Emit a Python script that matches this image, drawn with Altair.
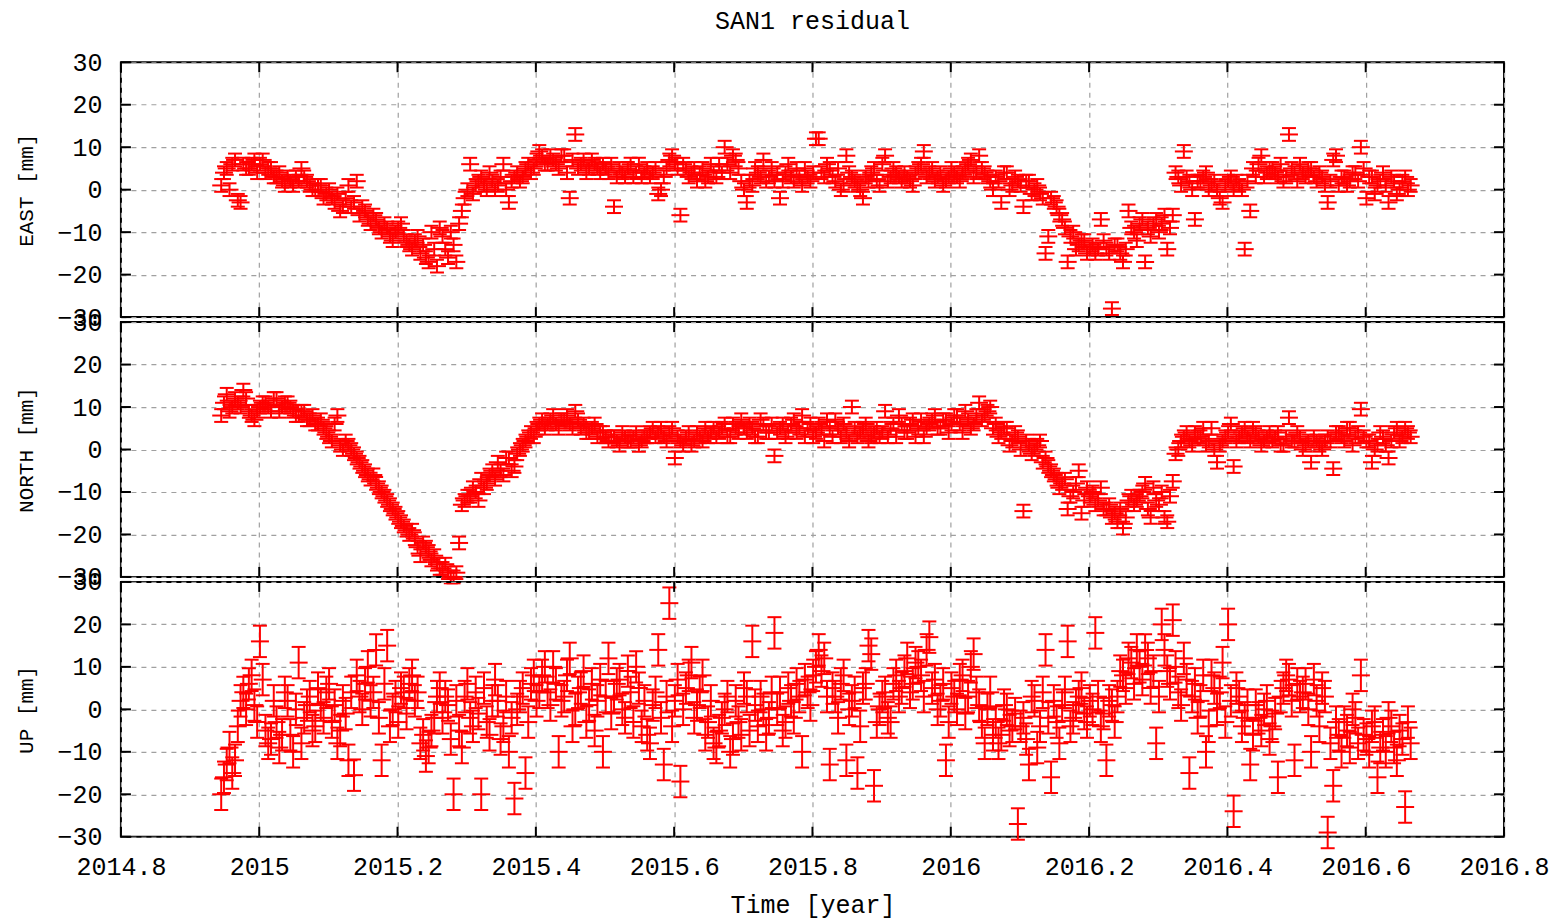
import altair as alt
import pandas as pd

# epochs (decimal year), first set
TIME = [
    2014.945, 2014.953, 2014.961, 2014.969, 2014.977, 2014.985, 2014.993, 2015.001, 2015.009, 2015.017,
    2015.025, 2015.033, 2015.041, 2015.049, 2015.057, 2015.065, 2015.073, 2015.081, 2015.089, 2015.097,
    2015.105, 2015.113, 2015.121, 2015.129, 2015.137, 2015.145, 2015.153, 2015.161, 2015.169, 2015.177,
    2015.185, 2015.193, 2015.201, 2015.209, 2015.217, 2015.225, 2015.233, 2015.241, 2015.249, 2015.257,
    2015.265, 2015.273, 2015.281, 2015.289, 2015.297, 2015.305, 2015.313, 2015.321, 2015.329, 2015.337,
    2015.345, 2015.353, 2015.361, 2015.369, 2015.377, 2015.385, 2015.393, 2015.401, 2015.409, 2015.417,
    2015.425, 2015.433, 2015.441, 2015.449, 2015.457, 2015.465, 2015.473, 2015.481, 2015.489, 2015.497,
    2015.505, 2015.513, 2015.521, 2015.529, 2015.537, 2015.545, 2015.553, 2015.561, 2015.569, 2015.577,
    2015.585, 2015.593, 2015.601, 2015.609, 2015.617, 2015.625, 2015.633, 2015.641, 2015.649, 2015.657,
    2015.665, 2015.673, 2015.681, 2015.689, 2015.697, 2015.705, 2015.713, 2015.721, 2015.729, 2015.737,
    2015.745, 2015.753, 2015.761, 2015.769, 2015.777, 2015.785, 2015.793, 2015.801, 2015.809, 2015.817,
    2015.825, 2015.833, 2015.841, 2015.849, 2015.857, 2015.865, 2015.873, 2015.881, 2015.889, 2015.897,
    2015.905, 2015.913, 2015.921, 2015.929, 2015.937, 2015.945, 2015.953, 2015.961, 2015.969, 2015.977,
    2015.985, 2015.993, 2016.001, 2016.009, 2016.017, 2016.025, 2016.033, 2016.041, 2016.049, 2016.057,
    2016.065, 2016.073, 2016.081, 2016.089, 2016.097, 2016.105, 2016.113, 2016.121, 2016.129, 2016.137,
    2016.145, 2016.153, 2016.161, 2016.169, 2016.177, 2016.185, 2016.193, 2016.201, 2016.209, 2016.217,
    2016.225, 2016.233, 2016.241, 2016.249, 2016.257, 2016.265, 2016.273, 2016.281, 2016.289, 2016.297,
    2016.305, 2016.313, 2016.321, 2016.329, 2016.337, 2016.345, 2016.353, 2016.361, 2016.369, 2016.377,
    2016.385, 2016.393, 2016.401, 2016.409, 2016.417, 2016.425, 2016.433, 2016.441, 2016.449, 2016.457,
    2016.465, 2016.473, 2016.481, 2016.489, 2016.497, 2016.505, 2016.513, 2016.521, 2016.529, 2016.537,
    2016.545, 2016.553, 2016.561, 2016.569, 2016.577, 2016.585, 2016.593, 2016.601, 2016.609, 2016.617,
    2016.625, 2016.633, 2016.641, 2016.649, 2016.657, 2016.665,
]

EAST = [
    1, 5, 6, -2.5, 6, 5, 7, 6, 4, 5,
    3, 2, 3, 1, 2, 3, 1, 0, 1, -1,
    -2, -1, -4, 1, -3, -6, -5, -8, -7, -10,
    -9, -12, -9, -11, -13, -12, -15, -16, -10, -18,
    -11, -16, -13, -8, -2, 6, 1, 3, 0, 2,
    1, 6, -3, 3, 2, 5, 4, 7, 8, 6,
    7, 5, 8, -2, 13, 6, 4, 7, 5, 6,
    4, -4, 5, 3, 6, 4, 3, 5, 4, -1,
    3, 7, 6, -6, 5, 4, 2, 5, 3, 4,
    6, 10, 4, 7, 2, -3, 1, 4, 7, 3,
    2, -2, 4, 3, 5, 1, 3, 4, 12, 3,
    5, 2, 0, 8, 3, 1, -2, 2, 5, 1,
    8, 3, 4, 2, 3, 1, 5, 9, 4, 2,
    4, 2, 5, 3, 4, 6, 3, 8, 4, 2,
    3, -3, 4, 1, 2, -4, 2, 0, -1, -15,
    -2, -4, -7, -17, -10, -13, -12, -14, -15, -7,
    -14, -28, -13, -17, -5, -10, -8, -17, -11, -7,
    -8, -14, -6, 3, 9, 2, -7, 2, 4, 1,
    0, -3, 2, 0, 1, -14, -5, 3, 8, 4,
    5, 3, 2, 13, 4, 6, 3, 5, 2, 3,
    -3, 7, 1, 3, 2, 4, 10, -2, 3, 1,
    4, -3, 2, 0, 3, 1,
]

NORTH = [
    8, 13, 10, 11, 14, 9, 7, 10, 11, 9,
    12, 10, 11, 9, 8, 9, 7, 6, 7, 4,
    2, 8, 0, 1, -1, -3, -5, -7, -8, -10,
    -12, -14, -16, -18, -20, -21, -25, -23, -26, -27,
    -28, -29, -30, -22, -12, -11, -10, -7, -8, -5,
    -3, -6, -2, -4, 0, 2, 4, 5, 7, 6,
    8, 5, 7, 6, 9, 5, 4, 5, 3, 4,
    2, 3, 1, 3, 2, 4, 2, 3, 5, 4,
    3, 4, -2, 2, 3, 1, 4, 2, 3, 5,
    4, 6, 3, 5, 7, 4, 5, 3, 6, 4,
    -1.5, 5, 3, 6, 4, 8, 5, 3, 6, 2,
    5, 7, 3, 4, 10, 3, 5, 2, 4, 3,
    9, 5, 3, 6, 4, 7, 5, 3, 6, 8,
    5, 7, 6, 8, 4, 7, 6, 11, 8, 10,
    6, 4, 5, 2, 3, -14.5, 1, 0, 2, -2,
    -5, -7, -8, -14, -10, -5, -12, -11, -13, -9,
    -14, -16, -17, -18.5, -12, -13, -11, -8, -16, -12,
    -10, -17, -7.5, 0, 3, 2, 4, 3, 1, 5,
    -3, 2, 4, -4, 3, 5, 2, 4, 1, 3,
    2, 4, 1, 7.5, 2, 3, 1, -3, 2, 0,
    3, -4.5, 4, 2, 5, 3, 9.5, 2, -3, 1,
    3, -2, 4, 2, 5, 3,
]

UP = [
    -20, -13, -15, -4, 4, 6, 1, 16, -5, -7,
    -3, -6, 2, -10, 11, -2, 3, -4, 1, 4,
    -3, -8, 2, -12, -15.5, 3, 6, 2, 14, -12,
    15, 0, -3, 4, 6, 2, -8, -11, -5, 3,
    -2, 1, -20, -5, 3, -2, 4, -20, -3, 2,
    2, -4, -10, -21, 3, -15, 6, 2, 8, 4,
    10, -10, 3, 12, 0, 5, -3, 6, 2, -10,
    12, 3, 7, -2, 4, 10, -4, -6, 1, 14,
    -13, 25, 2, -17, 5, 11, 1, 8, -3, -8,
    -5, 0, -10, 2, -6, 3, 16, -4, 0, -2,
    18, 4, -3, 2, 6, -10, 4, 8, 14, 12,
    -13, 3, 6, -12, 2, -15, 5, 15, -18, 0,
    4, -3, 8, 5, 12, 6, 10, 3, 17, 7,
    2, -12, 5, 0, 8, 3, 13, 1, -8, 4,
    -3, -6, 0, -4, -27, -2, -13, 2, -4, 14,
    -16, -3, 1, 16, -2, 3, -1, 2, 18, -4,
    -12, 1, 3, 8, 12, 6, 10, 14, 5, -8,
    20, 9, 21, 4, 12, -15, 6, 2, -10, 8,
    0, 11, 20, -24, 3, -2, -13, 1, -5, 2,
    -4, -16, 5, 7, -12, 3, 6, -10, 2, 5,
    -29, -18, -6, -3, -9, -2, 8, -7, -4, -16,
    -6, -2, -9, -5, -23, -8,
]

# epochs (decimal year), second set (in between the first)
TIME_B = [
    2014.949, 2014.957, 2014.965, 2014.973, 2014.981, 2014.989, 2014.997, 2015.005, 2015.013, 2015.021,
    2015.029, 2015.037, 2015.045, 2015.053, 2015.061, 2015.069, 2015.077, 2015.085, 2015.093, 2015.101,
    2015.109, 2015.117, 2015.125, 2015.133, 2015.141, 2015.149, 2015.157, 2015.165, 2015.173, 2015.181,
    2015.189, 2015.197, 2015.205, 2015.213, 2015.221, 2015.229, 2015.237, 2015.245, 2015.253, 2015.261,
    2015.269, 2015.277, 2015.285, 2015.293, 2015.301, 2015.309, 2015.317, 2015.325, 2015.333, 2015.341,
    2015.349, 2015.357, 2015.365, 2015.373, 2015.381, 2015.389, 2015.397, 2015.405, 2015.413, 2015.421,
    2015.429, 2015.437, 2015.445, 2015.453, 2015.461, 2015.469, 2015.477, 2015.485, 2015.493, 2015.501,
    2015.509, 2015.517, 2015.525, 2015.533, 2015.541, 2015.549, 2015.557, 2015.565, 2015.573, 2015.581,
    2015.589, 2015.597, 2015.605, 2015.613, 2015.621, 2015.629, 2015.637, 2015.645, 2015.653, 2015.661,
    2015.669, 2015.677, 2015.685, 2015.693, 2015.701, 2015.709, 2015.717, 2015.725, 2015.733, 2015.741,
    2015.749, 2015.757, 2015.765, 2015.773, 2015.781, 2015.789, 2015.797, 2015.805, 2015.813, 2015.821,
    2015.829, 2015.837, 2015.845, 2015.853, 2015.861, 2015.869, 2015.877, 2015.885, 2015.893, 2015.901,
    2015.909, 2015.917, 2015.925, 2015.933, 2015.941, 2015.949, 2015.957, 2015.965, 2015.973, 2015.981,
    2015.989, 2015.997, 2016.005, 2016.013, 2016.021, 2016.029, 2016.037, 2016.045, 2016.053, 2016.061,
    2016.069, 2016.077, 2016.085, 2016.093, 2016.101, 2016.109, 2016.117, 2016.125, 2016.133, 2016.141,
    2016.149, 2016.157, 2016.165, 2016.173, 2016.181, 2016.189, 2016.197, 2016.205, 2016.213, 2016.221,
    2016.229, 2016.237, 2016.245, 2016.253, 2016.261, 2016.269, 2016.277, 2016.285, 2016.293, 2016.301,
    2016.309, 2016.317, 2016.325, 2016.333, 2016.341, 2016.349, 2016.357, 2016.365, 2016.373, 2016.381,
    2016.389, 2016.397, 2016.405, 2016.413, 2016.421, 2016.429, 2016.437, 2016.445, 2016.453, 2016.461,
    2016.469, 2016.477, 2016.485, 2016.493, 2016.501, 2016.509, 2016.517, 2016.525, 2016.533, 2016.541,
    2016.549, 2016.557, 2016.565, 2016.573, 2016.581, 2016.589, 2016.597, 2016.605, 2016.613, 2016.621,
    2016.629, 2016.637, 2016.645, 2016.653, 2016.661,
]

EAST_B = [
    4, 0, 7, -3, 5, 6, 4, 7, 5, 3,
    4, 1, 2, 3, 5, 2, 0, 1, -2, 0,
    -3, -5, -2, -4, 2, -4, -7, -6, -9, -8,
    -11, -10, -8, -12, -14, -11, -13, -17, -14, -9,
    -14, -10, -17, -5, 0, -1, 2, 1, 4, 0,
    3, 0, 2, 4, 3, 6, 5, 9, 6, 8,
    6, 8, 4, 7, 5, 7, 5, 6, 4, 5,
    6, 3, 4, 5, 3, 6, 4, 3, 5, 0,
    5, 8, 5, 6, 3, 5, 4, 2, 6, 3,
    4, 6, 8, 5, 0, 2, 5, 3, 2, 5,
    4, 2, 6, 2, 3, 5, 2, 12, 4, 6,
    3, 5, 1, 4, 2, 0, 3, 4, 2, 6,
    2, 5, 3, 4, 2, 4, 6, 3, 5, 3,
    1, 3, 4, 2, 5, 7, 4, 5, 3, 0,
    2, 4, 0, 3, 1, 2, -1, 1, -2, -11,
    -3, -6, -9, -11, -14, -12, -15, -13, -14, -12,
    -15, -13, -15, -14, -9, -12, -7, -9, -8, -10,
    -6, -9, 4, 1, 3, 0, 2, 3, 0, 2,
    -2, 1, 3, 2, 0, 2, 5, 6, 3, 5,
    4, 6, 3, 5, 2, 4, 5, 3, 4, 1,
    2, 8, 3, 1, 4, 2, 5, 3, -1, 2,
    1, 3, -1, 2, 0,
]

NORTH_B = [
    11, 9, 12, 10, 12, 8, 9, 11, 10, 12,
    9, 11, 10, 8, 9, 7, 8, 6, 5, 3,
    6, 1, 2, 0, -2, -4, -6, -6, -9, -11,
    -13, -15, -17, -19, -19, -23, -22, -24, -25, -28,
    -27, -30, -29, -13, -11, -9, -12, -9, -6, -7,
    -5, -2, -5, -1, 1, 3, 3, 6, 5, 7,
    6, 7, 8, 5, 7, 6, 4, 6, 4, 3,
    3, 2, 4, 2, 3, 1, 3, 4, 3, 5,
    2, 5, 3, 1, 4, 2, 3, 5, 4, 3,
    5, 3, 6, 4, 5, 6, 3, 7, 4, 6,
    4, 6, 4, 7, 5, 3, 6, 4, 5, 7,
    3, 5, 6, 2, 5, 4, 6, 3, 5, 4,
    3, 6, 8, 4, 6, 3, 7, 5, 7, 5,
    7, 4, 8, 6, 9, 5, 8, 7, 9, 5,
    3, 5, 1, 4, 0, 2, -1, 1, -3, -4,
    -6, -9, -7, -11, -8, -15, -9, -10, -12, -14,
    -13, -15, -14, -16, -11, -12, -10, -14, -9, -13,
    -16, -11, -1, 2, 4, 1, 3, 5, 2, 0,
    1, 3, 6, 2, 4, 3, 5, 3, 2, 4,
    3, 1, 3, 2, 4, 0, 2, 3, 1, 2,
    2, 4, 3, 5, 1, 4, 3, 2, 0, 4,
    1, 2, 5, 3, 4,
]

UP_B = [
    -16, -9, -12, 2, 0, 8, -3, 7, -8, 2,
    -9, 4, -6, 0, -8, 1, -5, 5, -2, 6,
    1, -5, -1, 4, 8, 0, 10, 4, -2, 6,
    -4, 3, 5, -1, 8, 4, -6, -9, -2, 5,
    3, -7, 2, -9, 6, -4, -1, 5, -6, 7,
    -7, 3, -2, 0, 5, -3, 8, 4, 10, 1,
    6, 2, 8, -4, 4, 9, 1, -5, 7, 3,
    -1, 6, 0, 9, -3, 5, 2, -8, 4, -2,
    3, -4, 7, 0, 8, -2, 4, -6, 2, -9,
    -2, 3, -7, -3, 5, -5, 1, 3, -6, 4,
    0, -5, 5, -2, 3, 7, 1, 10, 9, 3,
    5, -2, 8, 0, 4, -4, 6, 13, -3, 3,
    -2, 6, 3, 9, 4, 11, 8, 14, 5, 0,
    6, -3, 3, 7, -1, 10, 4, -3, 0, -6,
    -8, 1, -5, -1, -4, -7, 3, -9, 4, -2,
    2, -8, 4, -4, 1, 5, -3, 0, 3, -1,
    2, -3, 9, 5, 11, 14, 7, 12, 9, 3,
    14, 6, 10, 1, 7, 3, -2, 8, -4, 5,
    4, -3, 2, 5, -4, 1, -6, -2, 0, -7,
    -1, 3, 8, 2, 6, 4, 0, 7, -4, 3,
    -8, -3, -10, -5, 0, -8, -6, -10, -3, -9,
    -10, -4, -12, -7, -3,
]

E_ERR = 1.5
N_ERR = 1.5
U_ERR = 3.7

X_TICKS = [2014.8, 2015.0, 2015.2, 2015.4, 2015.6, 2015.8, 2016.0, 2016.2, 2016.4, 2016.6, 2016.8]
Y_TICKS = [-30, -20, -10, 0, 10, 20, 30]

TITLE = "SAN1 residual"
X_TITLE = "Time [year]"
Y_TITLES = ["EAST [mm]", "NORTH [mm]", "UP [mm]"]

W, H = 1384, 255
FONT = "Liberation Mono"
RED = "#ff0000"
GRID = "#a0a0a0"
LW = 2

xs = alt.Scale(domain=[2014.8, 2016.8], nice=False, zero=False)
ys = alt.Scale(domain=[-30, 30], nice=False, zero=False)


def x_axis(bottom):
    common = dict(values=X_TICKS, grid=True, gridColor=GRID, gridDash=[5, 5],
                  gridWidth=1.2, domain=False, ticks=False, tickSize=0)
    if bottom:
        return alt.Axis(format=".1~f", labelFont=FONT, labelFontSize=25, labelColor="black",
                        labelPadding=18, labelFlush=False, labelOverlap=False,
                        title=X_TITLE, titleFont=FONT, titleFontSize=25,
                        titleFontWeight="normal", titleColor="black", titlePadding=13,
                        **common)
    return alt.Axis(labels=False, title=None, **common)


def y_axis(title):
    return alt.Axis(values=Y_TICKS, format="d", grid=True, gridColor=GRID, gridDash=[5, 5],
                    gridWidth=1.2, domain=False, ticks=False, tickSize=0,
                    labelFont=FONT, labelFontSize=25, labelColor="black", labelPadding=19,
                    labelOverlap=False, labelFlush=False,
                    title=title, titleFont=FONT, titleFontSize=21, titleFontWeight="normal",
                    titleColor="black", titlePadding=20)


def panel(values, values_b, err, ytitle, bottom, title=None):
    n = min(len(TIME), len(values))
    m = min(len(TIME_B), len(values_b))
    df = pd.DataFrame({"t": TIME[:n] + TIME_B[:m], "v": values[:n] + values_b[:m]})
    df["lo"] = df["v"] - err
    df["hi"] = df["v"] + err
    xa = x_axis(bottom)
    ya = y_axis(ytitle)

    def X(f):
        return alt.X(f, type="quantitative", scale=xs, axis=xa)

    def Y(f):
        return alt.Y(f, type="quantitative", scale=ys, axis=ya)

    base = alt.Chart(df)
    bars = base.mark_rule(color=RED, strokeWidth=LW).encode(
        x=X("t"), y=Y("lo"), y2=alt.Y2("hi"))
    cap_lo = base.mark_tick(orient="horizontal", color=RED, size=14, thickness=LW,
                            opacity=1).encode(x=X("t"), y=Y("lo"))
    cap_hi = base.mark_tick(orient="horizontal", color=RED, size=14, thickness=LW,
                            opacity=1).encode(x=X("t"), y=Y("hi"))
    centre = base.mark_tick(orient="horizontal", color=RED, size=18, thickness=LW,
                            opacity=1).encode(x=X("t"), y=Y("v"))

    xt = alt.Chart(pd.DataFrame({"xt": X_TICKS}))
    yt = alt.Chart(pd.DataFrame({"yt": Y_TICKS}))
    tk = dict(color="black", strokeWidth=2)
    t_top = xt.mark_rule(**tk).encode(x=X("xt"), y=alt.value(0), y2=alt.value(10))
    t_bot = xt.mark_rule(**tk).encode(x=X("xt"), y=alt.value(H - 10), y2=alt.value(H))
    t_left = yt.mark_rule(**tk).encode(y=Y("yt"), x=alt.value(0), x2=alt.value(10))
    t_right = yt.mark_rule(**tk).encode(y=Y("yt"), x=alt.value(W - 10), x2=alt.value(W))

    layer = alt.layer(bars, cap_lo, cap_hi, centre, t_top, t_bot, t_left, t_right)
    props = dict(width=W, height=H)
    if title:
        props["title"] = alt.TitleParams(title, font=FONT, fontSize=25, fontWeight="normal",
                                         color="black", anchor="middle", frame="group",
                                         offset=16)
    return layer.properties(**props)


p1 = panel(EAST, EAST_B, E_ERR, Y_TITLES[0], False, TITLE)
p2 = panel(NORTH, NORTH_B, N_ERR, Y_TITLES[1], False)
p3 = panel(UP, UP_B, U_ERR, Y_TITLES[2], True)

chart = alt.vconcat(p1, p2, p3, spacing=5, bounds="flush").properties(
    padding={"left": 6, "top": 0, "right": 5, "bottom": 3}
).configure_view(stroke="black", strokeWidth=2)

chart.save("out.html", embed_options={"renderer": "svg", "actions": False})
